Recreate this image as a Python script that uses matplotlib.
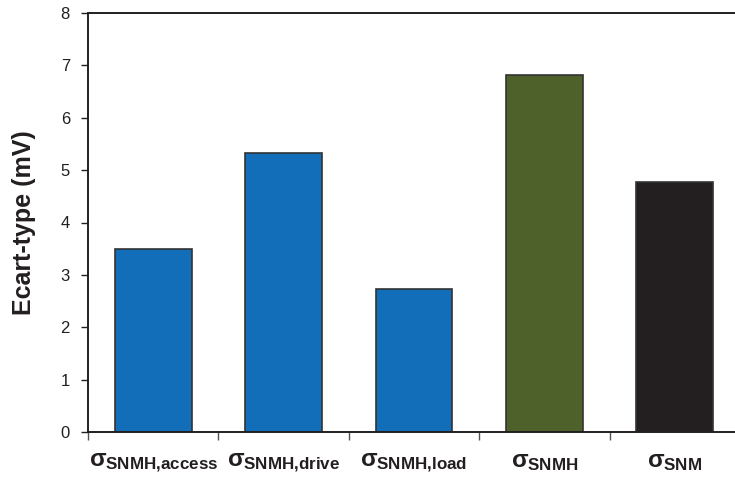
import numpy as np
import matplotlib
matplotlib.use("Agg")
import matplotlib.pyplot as plt

plt.rcParams['font.family'] = ['Liberation Sans', 'DejaVu Sans']
plt.rcParams['mathtext.fontset'] = 'custom'
plt.rcParams['mathtext.rm'] = 'Liberation Sans:bold'
plt.rcParams['mathtext.it'] = 'Liberation Sans:bold'
plt.rcParams['mathtext.bf'] = 'Liberation Sans:bold'

labels = [r"$\sigma_{\mathrm{SNMH{,}access}}$",
          r"$\sigma_{\mathrm{SNMH{,}drive}}$",
          r"$\sigma_{\mathrm{SNMH{,}load}}$",
          r"$\sigma_{\mathrm{SNMH}}$",
          r"$\sigma_{\mathrm{SNM}}$"]
values = [3.49, 5.32, 2.73, 6.82, 4.77]
colors = ["#126EB8", "#126EB8", "#126EB8", "#4E612B", "#231F20"]

ink = "#231F20"

fig = plt.figure(figsize=(7.35, 4.79), dpi=100)
ax = fig.add_axes([88 / 735, 47 / 479, 652 / 735, 419 / 479])

x = np.arange(len(values))
ax.bar(x, values, width=0.59, color=colors, edgecolor="#333333", linewidth=1.2)

ax.set_xlim(-0.5, len(values) - 0.5)
ax.set_ylim(0, 8)
ax.set_yticks(range(0, 9))
ax.tick_params(axis='y', direction='out', length=5, width=1, colors=ink,
               labelsize=12, pad=8)

# labels under the bars, tick marks on the category boundaries
ax.set_xticks(x)
ax.set_xticklabels(labels, fontsize=17.5, color=ink)
ax.tick_params(axis='x', which='major', length=0, pad=14)
ax.set_xticks(np.arange(-0.5, len(values)), minor=True)
ax.tick_params(axis='x', which='minor', direction='out', length=6, width=1, color="#555555")

for s in ax.spines.values():
    s.set_color(ink)
    s.set_linewidth(1.4)

ax.set_ylabel("Ecart-type (mV)", fontsize=18, fontweight='bold', color=ink, labelpad=18)

fig.savefig("out.png", dpi=100)
